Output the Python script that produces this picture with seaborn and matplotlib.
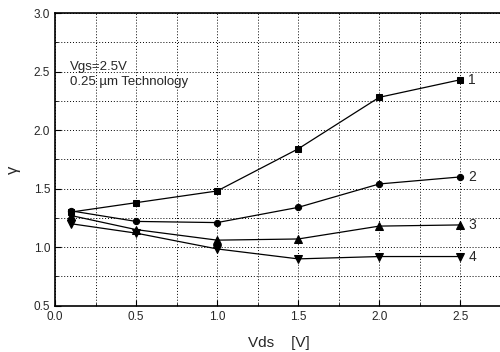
import pandas as pd
import matplotlib
matplotlib.use('Agg')
import matplotlib.pyplot as plt
import seaborn as sns
from matplotlib.ticker import MultipleLocator

vds = [0.1, 0.5, 1.0, 1.5, 2.0, 2.5]
gamma_1 = [1.30, 1.38, 1.48, 1.84, 2.28, 2.43]
gamma_2 = [1.31, 1.22, 1.21, 1.34, 1.54, 1.60]
gamma_3 = [1.27, 1.15, 1.06, 1.07, 1.18, 1.19]
gamma_4 = [1.20, 1.12, 0.985, 0.90, 0.92, 0.92]
curve_names = ['1', '2', '3', '4']
markers = ['s', 'o', '^', 'v']


def build_df():
    rows = []
    for name, vals in zip(curve_names, [gamma_1, gamma_2, gamma_3, gamma_4]):
        for x, y in zip(vds, vals):
            rows.append({'Vds': x, 'gamma': y, 'curve': name})
    return pd.DataFrame(rows)


def main():
    sns.set_style('ticks')
    plt.rcParams['font.family'] = ['Liberation Sans', 'DejaVu Sans']
    df = build_df()

    fig = plt.figure(figsize=(5, 3.52), dpi=100)
    ax = fig.add_axes([0.11, 0.1315, 0.895, 0.8315])

    sizes = [4, 4.5, 5.5, 5.5]
    for i, name in enumerate(curve_names):
        d = df[df['curve'] == name]
        sns.lineplot(data=d, x='Vds', y='gamma', ax=ax, color='black', lw=0.9,
                     marker=markers[i], markersize=sizes[i], markeredgecolor='black',
                     markerfacecolor='black')
        ax.text(d['Vds'].iloc[-1] + 0.05, d['gamma'].iloc[-1], name,
                fontsize=10, va='center', ha='left')

    ax.set_xlim(0, 2.76)
    ax.set_ylim(0.5, 3.0)
    ax.xaxis.set_major_locator(MultipleLocator(0.5))
    ax.xaxis.set_minor_locator(MultipleLocator(0.25))
    ax.yaxis.set_major_locator(MultipleLocator(0.5))
    ax.yaxis.set_minor_locator(MultipleLocator(0.25))
    ax.grid(which='both', color='black', linestyle=(0, (1, 2)), linewidth=0.7)
    ax.tick_params(which='both', direction='in', labelsize=8.5, color='black')
    ax.tick_params(which='major', length=4)
    ax.tick_params(which='minor', length=2)
    ax.spines['right'].set_visible(False)
    for s in ['left', 'bottom', 'top']:
        ax.spines[s].set_linewidth(1.2)
        ax.spines[s].set_color('black')

    ax.set_xlabel('Vds    [V]', fontsize=11, labelpad=10)
    ax.set_ylabel('\u03b3', fontsize=12)
    ax.yaxis.set_label_coords(-0.076, 0.464)
    ax.text(0.09, 2.54, 'Vgs=2.5V', fontsize=9.5, va='center')
    ax.text(0.09, 2.41, '0.25 \u00b5m Technology', fontsize=9.5, va='center')

    plt.savefig('out.png', dpi=100)


if __name__ == '__main__':
    main()
